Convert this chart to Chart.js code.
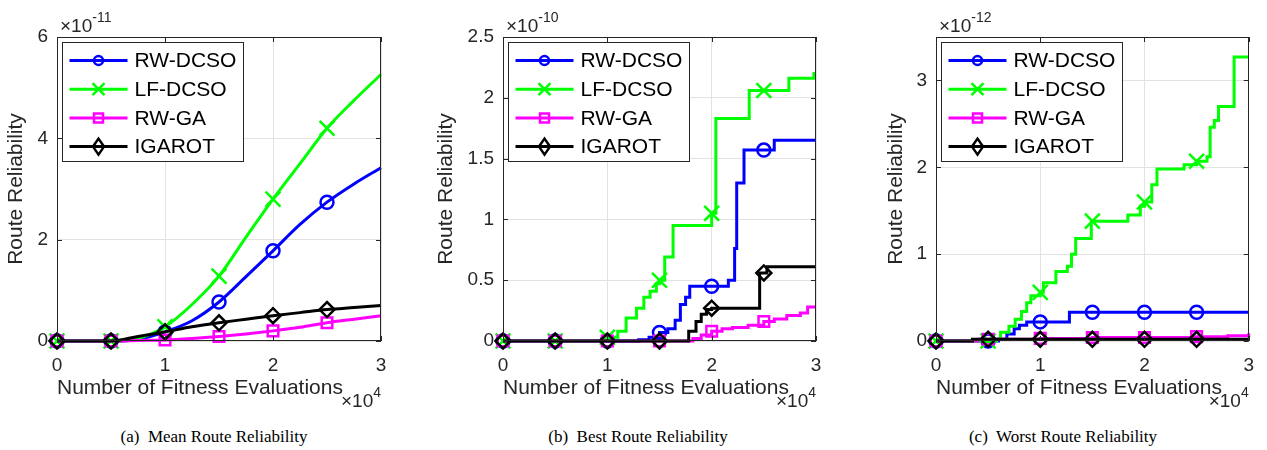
<!DOCTYPE html>
<html>
<head>
<meta charset="utf-8">
<script src="https://cdn.jsdelivr.net/npm/chart.js@4.4.0/dist/chart.umd.min.js"></script>
<style>
  body { margin: 0; background: #fff; width: 1267px; height: 450px; position: relative; overflow: hidden; }
  .panel { position: absolute; top: 0; }
  .cap { position: absolute; top: 427px; line-height: 20px; font-family: "Liberation Serif", "Times New Roman", serif;
         font-size: 17px; color: #000; white-space: pre; transform: translateX(-50%); }
</style>
</head>
<body>
<canvas id="chartA" class="panel" style="left:0px" width="420" height="420"></canvas>
<canvas id="chartB" class="panel" style="left:420px" width="420" height="420"></canvas>
<canvas id="chartC" class="panel" style="left:840px" width="427" height="420"></canvas>
<div class="cap" style="left:214px">(a)  Mean Route Reliability</div>
<div class="cap" style="left:638px">(b)  Best Route Reliability</div>
<div class="cap" style="left:1063px">(c)  Worst Route Reliability</div>
<script>
// series shared by the three panels
const seriesNames = ['RW-DCSO', 'LF-DCSO', 'RW-GA', 'IGAROT'];
const seriesColors = ['#0000ff', '#00ff00', '#ff00ff', '#000000'];
const seriesMarkers = ['circle', 'crossRot', 'rect', 'rectRot'];

// tick labels (x in units of 1e4 evaluations)
const xTicks = [0, 1, 2, 3];
const yTicksA = [0, 2, 4, 6];
const yTicksB = [0, 0.5, 1, 1.5, 2, 2.5];
const yTicksC = [0, 1, 2, 3];

// (a) mean route reliability, x 1e-11
const xA = [0, 0.5, 0.75, 1, 1.25, 1.5, 1.75, 2, 2.25, 2.5, 2.75, 3];
const rwDcsoA = [0, 0, 0.03, 0.18, 0.4, 0.77, 1.27, 1.78, 2.3, 2.74, 3.1, 3.42];
const lfDcsoA = [0, 0, 0.05, 0.28, 0.72, 1.28, 2.05, 2.8, 3.5, 4.2, 4.75, 5.26];
const rwGaA   = [0, 0, 0.01, 0.02, 0.05, 0.09, 0.14, 0.2, 0.27, 0.36, 0.43, 0.5];
const igarotA = [0, 0, 0.09, 0.18, 0.28, 0.36, 0.43, 0.5, 0.56, 0.62, 0.66, 0.7];

// (b) best route reliability, x 1e-10
const rwDcsoBx = [0, 0.5, 1, 1.3, 1.4, 1.5, 1.58, 1.65, 1.7, 1.75, 1.79, 2, 2.16, 2.22, 2.24, 2.31, 2.5, 2.6, 3];
const rwDcsoBy = [0, 0, 0, 0.01, 0.03, 0.07, 0.1, 0.17, 0.3, 0.36, 0.45, 0.45, 0.5, 0.76, 1.3, 1.57, 1.57, 1.65, 1.65];
const lfDcsoBx = [0, 0.5, 0.95, 1, 1.1, 1.18, 1.28, 1.35, 1.41, 1.47, 1.5, 1.55, 1.63, 2, 2.04, 2.36, 2.5, 2.74, 2.98, 3];
const lfDcsoBy = [0, 0, 0.01, 0.03, 0.08, 0.19, 0.27, 0.36, 0.41, 0.47, 0.5, 0.69, 0.95, 1.05, 1.83, 2.06, 2.06, 2.16, 2.2, 2.2];
const rwGaBx   = [0, 0.5, 1, 1.5, 1.75, 1.82, 1.9, 2, 2.1, 2.2, 2.35, 2.5, 2.6, 2.72, 2.85, 2.92, 3];
const rwGaBy   = [0, 0, 0, 0, 0, 0.02, 0.05, 0.08, 0.1, 0.11, 0.13, 0.16, 0.18, 0.21, 0.23, 0.28, 0.28];
const igarotBx = [0, 0.5, 1, 1.5, 1.75, 1.78, 1.85, 1.9, 1.95, 2, 2.46, 2.5, 2.53, 3];
const igarotBy = [0, 0, 0, 0, 0, 0.08, 0.16, 0.22, 0.26, 0.27, 0.56, 0.56, 0.61, 0.61];

// (c) worst route reliability, x 1e-12
const rwDcsoCx = [0, 0.5, 0.6, 0.68, 0.75, 0.8, 0.87, 1, 1.28, 1.5, 2, 2.5, 3];
const rwDcsoCy = [0, 0, 0.02, 0.08, 0.14, 0.18, 0.22, 0.22, 0.33, 0.33, 0.33, 0.33, 0.33];
const lfDcsoCx = [0, 0.5, 0.58, 0.62, 0.7, 0.76, 0.82, 0.87, 0.91, 1, 1.03, 1.15, 1.26, 1.3, 1.34, 1.49, 1.5, 1.84, 1.96, 2, 2.07, 2.12, 2.38, 2.5, 2.6, 2.63, 2.67, 2.71, 2.86, 3];
const lfDcsoCy = [0, 0, 0.02, 0.1, 0.17, 0.25, 0.34, 0.44, 0.52, 0.56, 0.67, 0.8, 0.86, 1.0, 1.18, 1.38, 1.38, 1.45, 1.55, 1.6, 1.8, 1.98, 2.03, 2.07, 2.12, 2.46, 2.54, 2.7, 3.27, 3.27];
const rwGaCx   = [0, 0.4, 0.5, 1, 1.5, 2, 2.5, 2.8, 3];
const rwGaCy   = [0, 0.02, 0.02, 0.03, 0.04, 0.04, 0.05, 0.06, 0.09];
const igarotCx = [0, 0.35, 0.5, 1, 1.5, 2, 2.5, 3];
const igarotCy = [0, 0.02, 0.02, 0.02, 0.02, 0.02, 0.02, 0.02];

const TEXT = '#262626';
const SANS = '"Liberation Sans", Arial, Helvetica, sans-serif';
const markerSizes = [6.5, 10.5, 7.5, 7.5];

// markers every 0.5e4 evaluations, like MATLAB's MarkerIndices
function isMarkerX(x) {
  return x !== undefined && Math.abs(x * 2 - Math.round(x * 2)) < 1e-6 && x < 2.99;
}

function series(i, xs, ys, smooth) {
  return {
    label: seriesNames[i],
    data: xs.map((x, k) => ({ x: x, y: ys[k] })),
    borderColor: seriesColors[i],
    borderWidth: 3,
    pointStyle: seriesMarkers[i],
    pointRadius: ctx => isMarkerX(ctx.raw && ctx.raw.x) ? markerSizes[i] : 0,
    pointBorderColor: seriesColors[i],
    pointBorderWidth: 2.5,
    pointBackgroundColor: 'rgba(0,0,0,0)',
    stepped: smooth ? false : 'before',
    cubicInterpolationMode: smooth ? 'monotone' : 'default',
    fill: false,
    clip: false,
    order: 4 - i
  };
}

function legendMarker(ctx, style, x, y) {
  ctx.beginPath();
  if (style === 'circle') {
    ctx.arc(x, y, 4.5, 0, Math.PI * 2);
  } else if (style === 'crossRot') {
    ctx.moveTo(x - 6, y - 6); ctx.lineTo(x + 6, y + 6);
    ctx.moveTo(x + 6, y - 6); ctx.lineTo(x - 6, y + 6);
  } else if (style === 'rect') {
    ctx.rect(x - 4.5, y - 4.5, 9, 9);
  } else {
    ctx.moveTo(x, y - 8); ctx.lineTo(x + 5.5, y); ctx.lineTo(x, y + 8); ctx.lineTo(x - 5.5, y); ctx.closePath();
  }
  ctx.stroke();
}

function drawPower(ctx, base, exp, x, y, align) {
  ctx.font = '19px ' + SANS;
  const wb = ctx.measureText(base).width;
  ctx.font = '14px ' + SANS;
  const we = ctx.measureText(exp).width;
  const x0 = align === 'right' ? x - wb - we : x;
  ctx.textAlign = 'left';
  ctx.textBaseline = 'alphabetic';
  ctx.font = '19px ' + SANS;
  ctx.fillText(base, x0, y);
  ctx.font = '14px ' + SANS;
  ctx.fillText(exp, x0 + wb, y - 10);
}

const matlabFrame = {
  id: 'matlabFrame',
  afterDatasetsDraw(chart) {
    const { ctx, chartArea: a, scales } = chart;
    ctx.save();
    ctx.strokeStyle = TEXT;
    ctx.lineWidth = 1;
    ctx.strokeRect(Math.round(a.left) + 0.5, Math.round(a.top) + 0.5,
                   Math.round(a.right - a.left) - 1, Math.round(a.bottom - a.top) - 1);
    ctx.beginPath();
    scales.x.ticks.forEach(t => {
      const px = Math.round(scales.x.getPixelForValue(t.value)) + 0.5;
      ctx.moveTo(px, a.bottom); ctx.lineTo(px, a.bottom - 5);
      ctx.moveTo(px, a.top); ctx.lineTo(px, a.top + 5);
    });
    scales.y.ticks.forEach(t => {
      const py = Math.round(scales.y.getPixelForValue(t.value)) + 0.5;
      ctx.moveTo(a.left, py); ctx.lineTo(a.left + 5, py);
      ctx.moveTo(a.right, py); ctx.lineTo(a.right - 5, py);
    });
    ctx.stroke();
    ctx.restore();
  },
  afterDraw(chart, args, opts) {
    const { ctx, chartArea: a } = chart;
    ctx.save();
    // legend box inside the axes, top left
    const bx = a.left + 5.5, by = a.top + 5.5, bw = 181, bh = 119;
    ctx.fillStyle = '#fff';
    ctx.fillRect(bx, by, bw, bh);
    ctx.strokeStyle = TEXT;
    ctx.lineWidth = 1;
    ctx.strokeRect(bx, by, bw, bh);
    chart.data.datasets.forEach((ds, i) => {
      const y = by + 18 + i * 28.7;
      ctx.strokeStyle = ds.borderColor;
      ctx.lineWidth = 3;
      ctx.beginPath();
      ctx.moveTo(bx + 7, y); ctx.lineTo(bx + 65, y);
      ctx.stroke();
      ctx.lineWidth = 2.5;
      legendMarker(ctx, ds.pointStyle, bx + 36, y);
      ctx.fillStyle = '#000';
      ctx.font = '21px ' + SANS;
      ctx.textAlign = 'left';
      ctx.textBaseline = 'middle';
      ctx.fillText(ds.label, bx + 72, y + 1);
    });
    // MATLAB exponent labels
    ctx.fillStyle = TEXT;
    drawPower(ctx, '\u00d710', opts.yExp, a.left + 3, a.top - 5, 'left');
    drawPower(ctx, '\u00d710', '4', a.right, a.bottom + 66, 'right');
    ctx.restore();
  }
};

function makeChart(id, datasets, yMax, yTicks, yWidth, padRight, titlePad, yExp) {
  return new Chart(document.getElementById(id), {
    type: 'line',
    data: { datasets: datasets },
    options: {
      responsive: false,
      animation: false,
      devicePixelRatio: 1,
      layout: { padding: { left: 0, right: padRight, top: 37, bottom: 0 } },
      plugins: {
        legend: { display: false },
        tooltip: { enabled: false },
        matlabFrame: { yExp: yExp }
      },
      scales: {
        x: {
          type: 'linear', min: 0, max: 3,
          afterBuildTicks: s => { s.ticks = xTicks.map(v => ({ value: v })); },
          afterFit: s => { s.height = 79; },
          ticks: { color: TEXT, font: { family: SANS, size: 19 }, padding: 13, maxRotation: 0,
                   callback: v => String(v) },
          grid: { color: '#e2e2e2', lineWidth: 1, drawTicks: false },
          border: { display: false },
          title: { display: true, text: 'Number of Fitness Evaluations', align: 'start', color: TEXT,
                   font: { family: SANS, size: 21 }, padding: { top: 0, bottom: 19 } }
        },
        y: {
          type: 'linear', min: 0, max: yMax,
          afterBuildTicks: s => { s.ticks = yTicks.map(v => ({ value: v })); },
          afterFit: s => { s.width = yWidth; },
          ticks: { color: TEXT, font: { family: SANS, size: 19 }, padding: 9, callback: v => String(v) },
          grid: { color: '#e2e2e2', lineWidth: 1, drawTicks: false },
          border: { display: false },
          title: { display: true, text: 'Route Reliability', color: TEXT,
                   font: { family: SANS, size: 21 }, padding: { top: titlePad, bottom: 0 } }
        }
      }
    },
    plugins: [matlabFrame]
  });
}

makeChart('chartA', [
  series(0, xA, rwDcsoA, true),
  series(1, xA, lfDcsoA, true),
  series(2, xA, rwGaA, true),
  series(3, xA, igarotA, true)
], 6, yTicksA, 57, 39, 4, '-11');

makeChart('chartB', [
  series(0, rwDcsoBx, rwDcsoBy, false),
  series(1, lfDcsoBx, lfDcsoBy, false),
  series(2, rwGaBx, rwGaBy, false),
  series(3, igarotBx, igarotBy, false)
], 2.5, yTicksB, 83, 24, 14, '-10');

makeChart('chartC', [
  series(0, rwDcsoCx, rwDcsoCy, false),
  series(1, lfDcsoCx, lfDcsoCy, false),
  series(2, rwGaCx, rwGaCy, false),
  series(3, igarotCx, igarotCy, false)
], 3.5, yTicksC, 96, 15, 44, '-12');
</script>
</body>
</html>
